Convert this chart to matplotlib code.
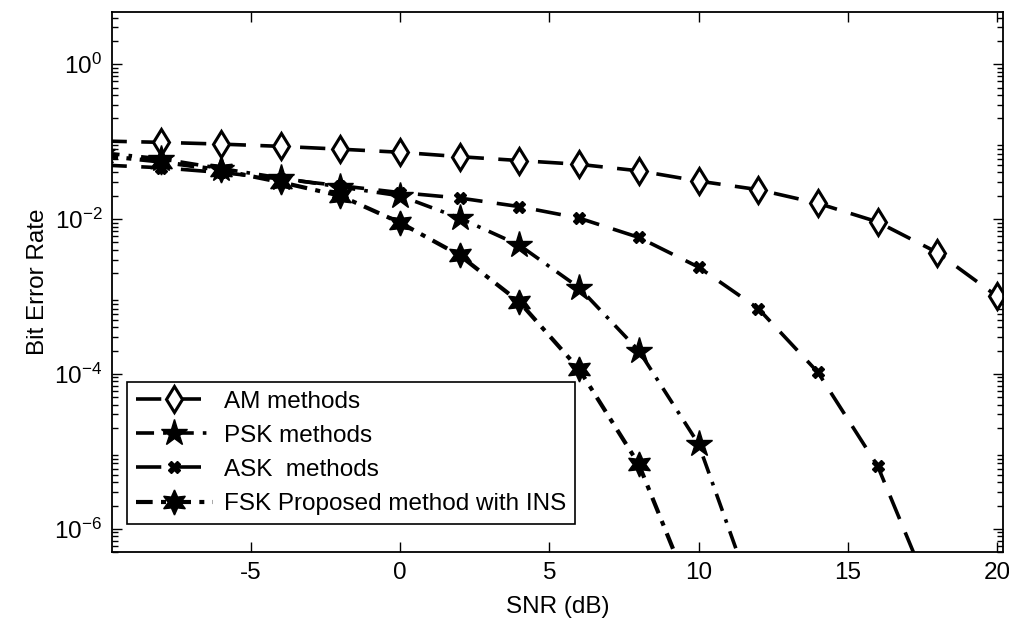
import matplotlib
matplotlib.use("Agg")
import matplotlib.pyplot as plt
import numpy as np

plt.rcParams['font.family'] = ['Liberation Sans', 'DejaVu Sans']

snr_am = [-10, -8, -6, -4, -2, 0, 2, 4, 6, 8, 10, 12, 14, 16, 18, 20]
ber_am = [0.102, 0.098, 0.093, 0.087, 0.080, 0.073, 0.064, 0.057, 0.051, 0.042, 0.031,
          0.024, 0.016, 0.0092, 0.0037, 0.00101]

snr_ask = [-10, -8, -6, -4, -2, 0, 2, 4, 6, 8, 10, 12, 14, 16, 18]
ber_ask = [0.050, 0.046, 0.040, 0.033, 0.027, 0.022, 0.0187, 0.0145, 0.0103, 0.0058,
           0.0024, 0.0007, 1.05e-4, 6.5e-6, 9e-8]

snr_psk = [-10, -8, -6, -4, -2, 0, 2, 4, 6, 8, 10, 12]
ber_psk = [0.072, 0.060, 0.045, 0.034, 0.026, 0.020, 0.0103, 0.0046, 0.0013, 2.0e-4,
           1.25e-5, 8.7e-8]

snr_fsk = [-10, -8, -6, -4, -2, 0, 2, 4, 6, 8, 10]
ber_fsk = [0.066, 0.055, 0.043, 0.030, 0.020, 0.0090, 0.0034, 8.5e-4, 1.15e-4, 6.8e-6,
           8.5e-8]

labels = ["AM methods", "PSK methods", "ASK  methods", "FSK Proposed method with INS"]

fig = plt.figure(figsize=(10.09, 6.42), dpi=100)
ax = fig.add_axes([0.111, 0.140, 0.883, 0.841])

lw = 2.6
ax.semilogy(snr_am, ber_am, color='k', lw=lw, dashes=(7, 4), marker='d',
            markersize=13, markerfacecolor='white', markeredgecolor='k',
            markeredgewidth=2.2, label=labels[0])
ax.semilogy(snr_psk, ber_psk, color='k', lw=lw, dashes=(5, 2.5, 1, 2.5), marker='*',
            markersize=20, markerfacecolor='k', markeredgecolor='k', label=labels[1])
ax.semilogy(snr_ask, ber_ask, color='k', lw=lw, dashes=(7, 4), marker='X',
            markersize=9, markerfacecolor='k', markeredgecolor='k', label=labels[2])
ax.semilogy(snr_fsk, ber_fsk, color='k', lw=3.0, dashes=(4, 2, 1.2, 2), marker=(6, 1, 0),
            markersize=18, markerfacecolor='k', markeredgecolor='k', label=labels[3])

ax.set_xlim(-9.65, 20.2)
ax.set_ylim(5e-7, 4.7)
ax.set_xticks([-5, 0, 5, 10, 15, 20])
ax.set_xticklabels(['-5', '0', '5', '10', '15', '20'])
ax.set_yticks([1e-6, 1e-4, 1e-2, 1e0])
ax.yaxis.set_minor_locator(matplotlib.ticker.LogLocator(base=10, subs=np.arange(2, 10)))
ax.yaxis.set_minor_formatter(matplotlib.ticker.NullFormatter())

ax.tick_params(which='both', direction='in', top=True, right=True, labelsize=17.5,
               color='k', width=1)
ax.tick_params(which='major', length=7, pad=7)
ax.tick_params(which='minor', length=4)
for s in ax.spines.values():
    s.set_linewidth(1.3)

ax.set_xlabel('SNR (dB)', fontsize=17.5, labelpad=9)
ax.set_ylabel('Bit Error Rate', fontsize=17.5, labelpad=4)

leg = ax.legend(loc='upper left', bbox_to_anchor=(127 / 1009, 1 - 382 / 642),
                bbox_transform=fig.transFigure, fontsize=17.5, frameon=True,
                fancybox=False, edgecolor='k', framealpha=1, handlelength=3.2,
                borderpad=0.35, labelspacing=0.5, handletextpad=0.45, borderaxespad=0)
leg.get_frame().set_linewidth(1.2)

fig.savefig('out.png', dpi=100)
